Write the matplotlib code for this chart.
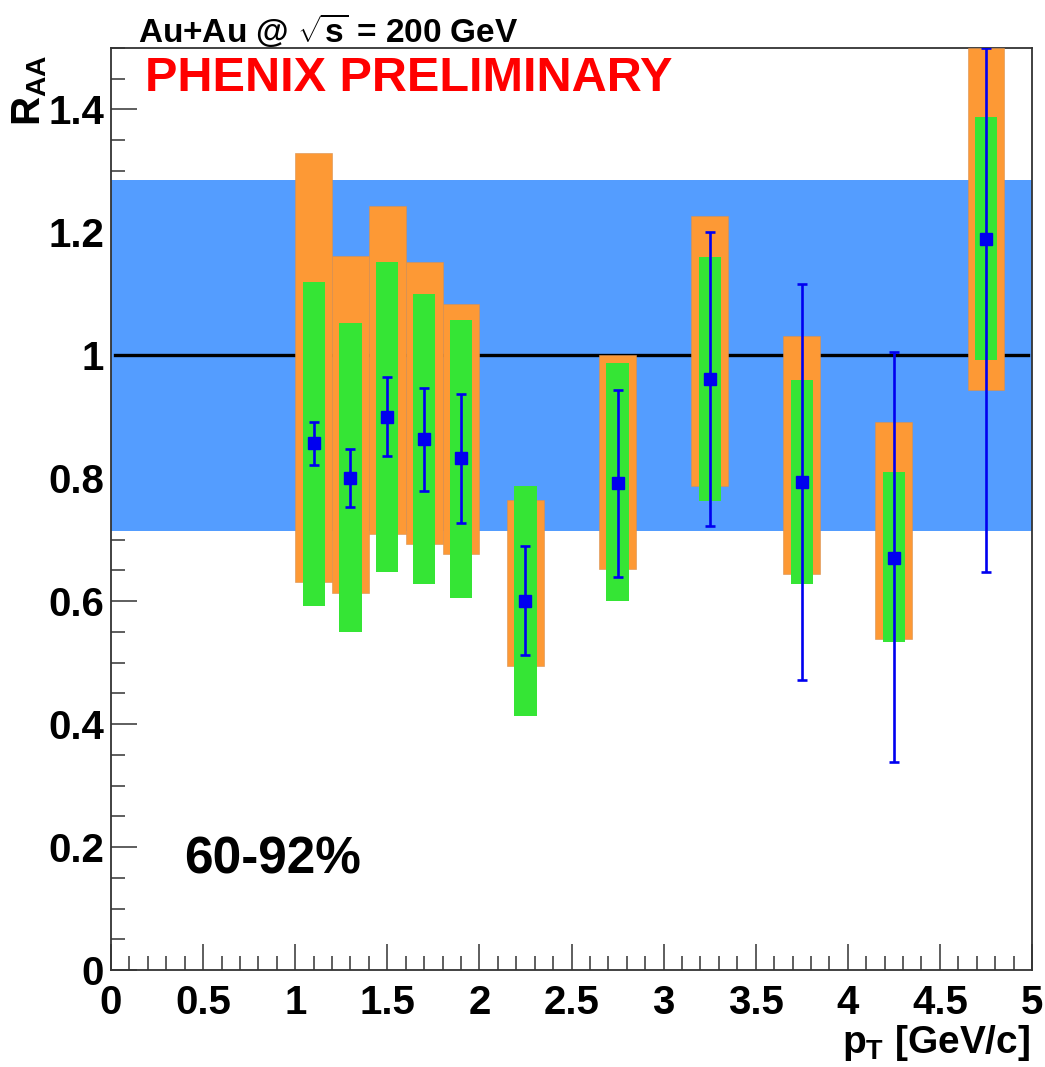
import numpy as np
import matplotlib
matplotlib.use("Agg")
import matplotlib.pyplot as plt
from matplotlib.ticker import MultipleLocator, FuncFormatter

plt.rcParams['font.family'] = ['Liberation Sans', 'DejaVu Sans']
plt.rcParams['font.weight'] = 'bold'
plt.rcParams['mathtext.fontset'] = 'custom'
plt.rcParams['mathtext.rm'] = 'Liberation Sans:bold'
plt.rcParams['mathtext.it'] = 'Liberation Sans:bold'
plt.rcParams['mathtext.bf'] = 'Liberation Sans:bold'

# R_AA vs pT, 60-92% centrality
pt = np.array([1.1, 1.3, 1.5, 1.7, 1.9, 2.25, 2.75, 3.25, 3.75, 4.25, 4.75])
raa = np.array([0.857, 0.801, 0.900, 0.864, 0.833, 0.601, 0.792, 0.962, 0.794, 0.671, 1.190])
stat_hi = np.array([0.891, 0.848, 0.964, 0.947, 0.937, 0.690, 0.944, 1.200, 1.116, 1.005, 1.500])
stat_lo = np.array([0.822, 0.754, 0.837, 0.780, 0.727, 0.512, 0.640, 0.723, 0.472, 0.338, 0.647])
sysA_hi = np.array([1.329, 1.161, 1.243, 1.152, 1.084, 0.765, 1.001, 1.226, 1.032, 0.892, 1.500])
sysA_lo = np.array([0.632, 0.614, 0.709, 0.693, 0.676, 0.494, 0.652, 0.788, 0.645, 0.538, 0.943])
sysB_hi = np.array([1.119, 1.053, 1.152, 1.100, 1.058, 0.787, 0.988, 1.160, 0.960, 0.811, 1.387])
sysB_lo = np.array([0.593, 0.550, 0.648, 0.628, 0.605, 0.414, 0.600, 0.763, 0.628, 0.534, 0.992])
norm_lo, norm_hi = 0.715, 1.286

c_band = '#549dff'
c_orange = '#fd9935'
c_green = '#35e535'
c_blue = '#0000f0'

fig = plt.figure(figsize=(10.45, 10.67), dpi=100)
ax = fig.add_axes([111/1045, 1 - 970/1067, (1032-111)/1045, (970-48)/1067])
ax.set_axisbelow(True)

ax.axhspan(norm_lo, norm_hi, color=c_band, lw=0, zorder=1)
ax.axhline(1.0, xmin=0.004, xmax=0.996, color='black', lw=2.4, zorder=2)

ax.bar(pt, sysA_hi - sysA_lo, bottom=sysA_lo, width=0.2, color=c_orange,
       edgecolor='#d89050', linewidth=0.4, zorder=3)
ax.bar(pt, sysB_hi - sysB_lo, bottom=sysB_lo, width=0.12, color=c_green,
       linewidth=0, zorder=4)
ax.errorbar(pt, raa, yerr=[raa - stat_lo, stat_hi - raa], fmt='s', color=c_blue,
            ms=9, elinewidth=1.9, capsize=3.5, capthick=1.9, zorder=5)

ax.set_xlim(0, 5)
ax.set_ylim(0, 1.5)
ax.xaxis.set_major_locator(MultipleLocator(0.5))
ax.xaxis.set_minor_locator(MultipleLocator(0.1))
ax.yaxis.set_major_locator(MultipleLocator(0.2))
ax.yaxis.set_minor_locator(MultipleLocator(0.05))
ax.xaxis.set_major_formatter(FuncFormatter(lambda v, p: f'{v:g}'))
ax.yaxis.set_major_formatter(FuncFormatter(lambda v, p: f'{v:g}'))
ax.tick_params(which='both', direction='in', top=False, right=False, width=1.1, color='#333333')
ax.tick_params(which='major', length=19, labelsize=29)
ax.tick_params(which='minor', length=10)
ax.tick_params(axis='y', which='major', pad=5)
ax.tick_params(axis='x', which='major', pad=10)
for s in ax.spines.values():
    s.set_linewidth(1.3)
    s.set_color('#333333')

fig.text(1030/1045, 1 - 1043/1067, r'$p_{T}$ [GeV/c]', ha='right', va='center', fontsize=28)
fig.text(30/1045, 1 - 55/1067, r'$R_{AA}$', rotation=90, ha='center', va='top', fontsize=29)
fig.text(138/1045, 1 - 30/1067, r'Au+Au @ $\sqrt{s}$ = 200 GeV', ha='left', va='center', fontsize=24)
fig.text(145/1045, 1 - 79/1067, 'PHENIX PRELIMINARY', color='#ff0000', ha='left', va='center', fontsize=35)
fig.text(184/1045, 1 - 860/1067, '60-92%', ha='left', va='center', fontsize=37)

fig.savefig('out.png', dpi=100)
